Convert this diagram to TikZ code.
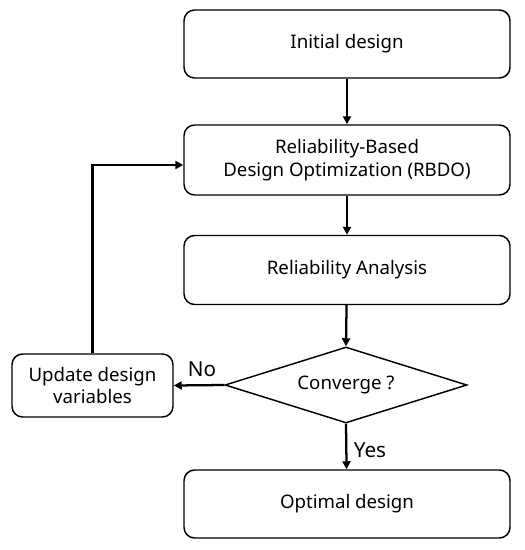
\documentclass[tikz,border=0pt]{standalone}
\usepackage{fontspec}
\setmainfont{Noto Sans}
\usetikzlibrary{shapes.geometric,arrows.meta}
\begin{document}
\begin{tikzpicture}[x=0.75pt,y=-0.75pt,
  stepbox/.style={draw,line width=1.1pt,rounded corners=8pt,inner sep=0pt,align=center,font=\fontsize{14}{17}\selectfont},
  flow/.style={line width=1.7pt,-{Triangle[length=6pt,width=6pt]}},
  lbl/.style={font=\fontsize{15.5}{18}\selectfont,inner sep=0pt}]
\useasboundingbox (0,0) rectangle (525,550);
\node[stepbox,minimum width=326*0.75pt,minimum height=68*0.75pt] (init) at (347,44) {Initial design};
\node[stepbox,minimum width=326*0.75pt,minimum height=70*0.75pt] (rbdo) at (347,160) {Reliability-Based\\Design Optimization (RBDO)};
\node[stepbox,minimum width=326*0.75pt,minimum height=69*0.75pt] (ra) at (347,270) {Reliability Analysis};
\node[draw,line width=1.1pt,diamond,aspect=3.2,inner sep=0pt,minimum width=242*0.75pt,minimum height=76*0.75pt] (conv) at (346,385) {};
\node[font=\fontsize{14}{17}\selectfont] at (conv.center) {Converge ?};
\node[stepbox,minimum width=161*0.75pt,minimum height=63*0.75pt] (upd) at (92.5,385.5) {Update design\\variables};
\node[stepbox,minimum width=326*0.75pt,minimum height=68*0.75pt] (opt) at (347,504) {Optimal design};
\coordinate (corner) at (93,165);
\draw[flow] (init) -- (rbdo);
\draw[flow] (rbdo) -- (ra);
\draw[flow] (ra) -- (conv.north);
\draw[flow] (conv.south) -- (opt);
\draw[flow] (conv.west) -- (upd.east);
\draw[flow] (upd.north) |- (rbdo.west |- corner);
\node[lbl] at (202,369) {No};
\node[lbl] at (370,450) {Yes};
\end{tikzpicture}
\end{document}
